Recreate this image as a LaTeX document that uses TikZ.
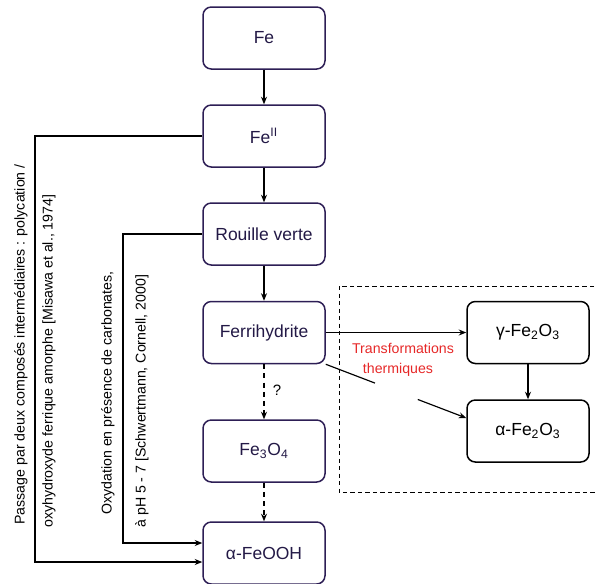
\documentclass[tikz,border=0pt]{standalone}
\usepackage{fontspec}
\setmainfont{Liberation Sans}
\usetikzlibrary{arrows.meta,calc}
\definecolor{boxcol}{RGB}{45,30,85}
\definecolor{boxtext}{RGB}{35,25,70}
\definecolor{redtext}{RGB}{230,40,40}
\begin{document}
\begin{tikzpicture}[x=0.6pt,y=-0.6pt,
  box/.style={draw=boxcol, line width=0.9pt, rounded corners=5pt,
    minimum width=73.2pt, minimum height=37.2pt, inner sep=0pt,
    font=\fontsize{10.5}{12}\selectfont, text=boxtext},
  rbox/.style={box, draw=black, text=black},
  arr/.style={line width=0.7pt, -{Stealth[length=4.5pt,width=3.6pt]}},
  plain/.style={line width=0.7pt},
  dasharr/.style={arr, dash pattern=on 3pt off 2.5pt},
  rottext/.style={rotate=90, anchor=west, inner sep=0pt,
    font=\fontsize{8.5}{10}\selectfont},
  redlabel/.style={text=redtext, font=\fontsize{8.5}{10}\selectfont, inner sep=0pt},
  zone/.style={line width=0.6pt, dash pattern=on 2.5pt off 2pt}
]
\useasboundingbox (0,0) rectangle (596,583);
% dashed zone
\draw[zone] (339,286) rectangle (598,492);
% main column
\node[box] (fe) at (264,38) {Fe};
\node[box] (fe2) at (264,136) {Fe\textsuperscript{II}};
\node[box] (rv) at (264,234) {Rouille verte};
\node[box] (fh) at (264,332.5) {Ferrihydrite};
\node[box] (mag) at (264,451) {Fe\textsubscript{3}O\textsubscript{4}};
\node[box] (goe) at (264,553) {α-FeOOH};
% right column
\node[rbox] (mgh) at (528,332.5) {γ-Fe\textsubscript{2}O\textsubscript{3}};
\node[rbox] (hem) at (528,431) {α-Fe\textsubscript{2}O\textsubscript{3}};
% vertical arrows
\draw[arr] (fe) -- (fe2);
\draw[arr] (fe2) -- (rv);
\draw[arr] (rv) -- (fh);
\draw[dasharr] (fh) -- node[right=5pt, pos=0.48, font=\fontsize{9}{10}\selectfont, inner sep=0pt] (q) {?} (mag);
\draw[dasharr] (mag) -- (goe);
% thermal transformations
\draw[arr] (fh.east) -- (mgh.west);
\draw[arr] (mgh) -- (hem);
\coordinate (hw) at ([yshift=7.8pt]hem.west);
\coordinate (g1) at ($(fh.south east)!0.35!(hw)$);
\coordinate (g2) at ($(fh.south east)!0.655!(hw)$);
\draw[plain] (fh.south east) -- (g1);
\draw[arr] (g2) -- (hw);
\node[redlabel] (tr1) at (403,348) {Transformations};
\node[redlabel] (tr2) at (398,370) {thermiques};
% outer path
\coordinate (o1) at (35,136);
\coordinate (o2) at (35,562);
\draw[arr] (fe2.west) -- (o1) -- (o2) -- (o2 -| goe.west);
% inner path
\coordinate (i1) at (123,234);
\coordinate (i2) at (123,543);
\draw[arr] (rv.west) -- (i1) -- (i2) -- (i2 -| goe.west);
% rotated texts
\node[rottext] (t1) at (21,525) {Passage par deux composés intermédiaires : polycation /};
\node[rottext] (t2) at (49,528) {oxyhydroxyde ferrique amorphe [Misawa et al., 1974]};
\node[rottext] (t3) at (108,515) {Oxydation en présence de carbonates,};
\node[rottext] (t4) at (142,528) {à pH 5 - 7 [Schwertmann, Cornell, 2000]};
\end{tikzpicture}
\end{document}
